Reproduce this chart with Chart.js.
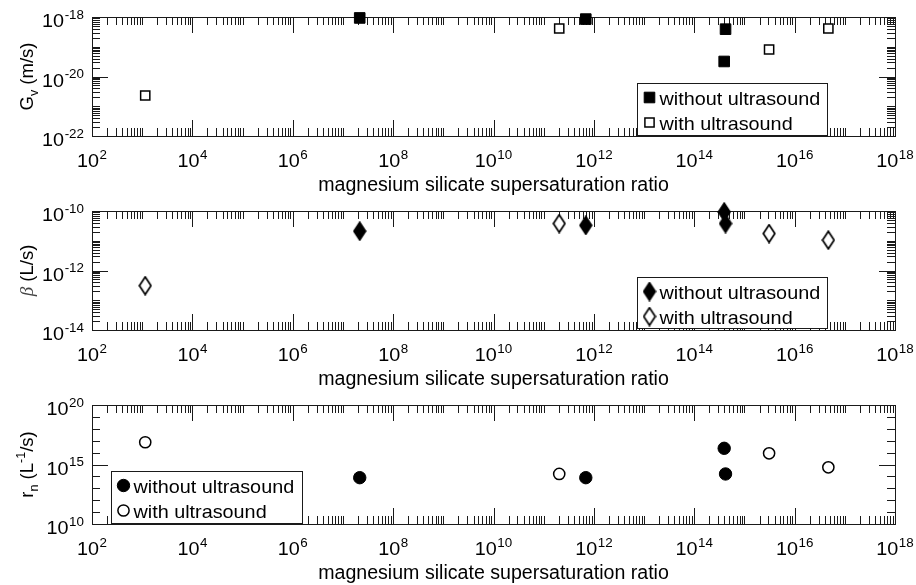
<!DOCTYPE html>
<html>
<head>
<meta charset="utf-8">
<script src="https://cdn.jsdelivr.net/npm/chart.js@4.4.0/dist/chart.umd.min.js"></script>
<style>
body{margin:0;background:#fff;width:916px;height:585px;overflow:hidden;position:relative}
canvas{position:absolute;left:0}
</style>
</head>
<body>
<canvas id="gvChart" width="916" height="200" style="top:0"></canvas>
<canvas id="betaChart" width="916" height="200" style="top:194px"></canvas>
<canvas id="rnChart" width="916" height="200" style="top:388px"></canvas>
<script>
// values
const seriesLabels = ['without ultrasound', 'with ultrasound'];
const xWithout = [2.16e7, 6.9e11, 3.95e14, 4.2e14];
const xWith = [1.15e3, 2.04e11, 3.1e15, 4.7e16];

const gvWithout = [9.3e-19, 8.5e-19, 3.2e-20, 3.9e-19];
const gvWith = [2.3e-21, 4.1e-19, 8.1e-20, 4.1e-19];
const betaWithout = [2.1e-11, 3.3e-11, 9.3e-11, 3.8e-11];
const betaWith = [3.1e-13, 3.8e-11, 1.75e-11, 1.05e-11];
const rnWithout = [7.8e13, 7.8e13, 2.3e16, 1.6e14];
const rnWith = [7.4e16, 1.6e14, 8.7e15, 5.8e14];

// tick labels (powers of ten)
const xLabelExps = [2, 4, 6, 8, 10, 12, 14, 16, 18];
const gvLabelExps = [-22, -20, -18];
const betaLabelExps = [-14, -12, -10];
const rnLabelExps = [10, 15, 20];

const xTitle = 'magnesium silicate supersaturation ratio';
// y titles as pieces: normal text, subscript, superscript
const gvTitle = [{t: 'G'}, {t: 'v', sub: true}, {t: ' (m/s)'}];
const betaTitle = [{t: 'β', greek: true}, {t: ' (L/s)'}];
const rnTitle = [{t: 'r'}, {t: 'n', sub: true}, {t: ' (L'}, {t: '-1', sup: true}, {t: '/s)'}];

const FAMILY = '"Liberation Sans", Arial, sans-serif';
const BASE_FONT = '18.5px ' + FAMILY;
const SMALL_FONT = '12.5px ' + FAMILY;
const STRETCH = 1.07;

Chart.defaults.font.family = FAMILY;
Chart.defaults.font.size = 18;
Chart.defaults.color = '#000';

// ticks for every decade, with 2..9 minors if wanted
function decadeTicks(lo, hi, labelExps, withMinors){
    let ticks = [];
    for(let e = lo; e <= hi; e++){
        ticks.push({value: Math.pow(10, e), major: labelExps.includes(e), exp: e});
        if(withMinors && e < hi){
            for(let m = 2; m <= 9; m++){
                ticks.push({value: m * Math.pow(10, e), major: false});
            }
        }
    }
    return ticks;
}

// "10" with a raised exponent
function drawPow(ctx, e, x, baseY, align){
    ctx.save();
    ctx.translate(x, baseY);
    ctx.scale(STRETCH, 1);
    ctx.textBaseline = 'alphabetic';
    ctx.textAlign = 'left';
    ctx.fillStyle = '#000';
    ctx.font = BASE_FONT;
    let w1 = ctx.measureText('10').width;
    ctx.font = SMALL_FONT;
    let w2 = ctx.measureText(String(e)).width;
    let total = w1 + w2 + 0.5;
    let left = align === 'center' ? -total / 2 : -total;
    ctx.font = BASE_FONT;
    ctx.fillText('10', left, 0);
    ctx.font = SMALL_FONT;
    ctx.fillText(String(e), left + w1 + 0.5, -8.5);
    ctx.restore();
}

function pieceFont(p){
    if(p.greek) return 'italic 19px "Liberation Serif", serif';
    return (p.sub || p.sup) ? SMALL_FONT : BASE_FONT;
}

// rotated y title with sub/superscripts
function drawYTitle(ctx, pieces, baseX, centerY){
    ctx.save();
    ctx.translate(baseX, centerY);
    ctx.rotate(-Math.PI / 2);
    ctx.textBaseline = 'alphabetic';
    ctx.textAlign = 'left';
    ctx.fillStyle = '#000';
    let total = 0;
    pieces.forEach(p => { ctx.font = pieceFont(p); total += ctx.measureText(p.t).width; });
    let cx = -total / 2;
    pieces.forEach(p => {
        ctx.font = pieceFont(p);
        ctx.fillStyle = p.greek ? '#444' : '#000';
        let dy = p.sub ? 5 : (p.sup ? -8.5 : 0);
        ctx.fillText(p.t, cx, dy);
        cx += ctx.measureText(p.t).width;
    });
    ctx.restore();
}

// diamond markers, taller than wide like the original
function diamond(filled){
    let c = document.createElement('canvas');
    c.width = 14; c.height = 20;
    let g = c.getContext('2d');
    g.beginPath();
    g.moveTo(7, 1.2); g.lineTo(12.8, 10); g.lineTo(7, 18.8); g.lineTo(1.2, 10);
    g.closePath();
    g.fillStyle = filled ? '#000' : '#fff';
    g.fill();
    g.lineWidth = 1.7;
    g.strokeStyle = '#000';
    g.stroke();
    return c;
}

// box round the plot with inward ticks on all four sides, plus labels
const boxTicks = {
    id: 'boxTicks',
    beforeDatasetsDraw(chart, args, opts){
        const {ctx, chartArea: a, scales: {x, y}} = chart;
        ctx.save();
        ctx.strokeStyle = '#1a1a1a';
        ctx.lineWidth = 1;
        ctx.beginPath();
        x.ticks.forEach(t => {
            let px = Math.round(x.getPixelForValue(t.value)) + 0.5;
            let len = t.major ? 16 : 8;
            ctx.moveTo(px, a.top); ctx.lineTo(px, a.top + len);
            ctx.moveTo(px, a.bottom); ctx.lineTo(px, a.bottom - len);
        });
        y.ticks.forEach(t => {
            let py = Math.round(y.getPixelForValue(t.value)) + 0.5;
            let len = t.major ? 16 : 8;
            ctx.moveTo(a.left, py); ctx.lineTo(a.left + len, py);
            ctx.moveTo(a.right, py); ctx.lineTo(a.right - len, py);
        });
        ctx.stroke();
        ctx.strokeRect(Math.round(a.left) + 0.5, Math.round(a.top) + 0.5, Math.round(a.width), Math.round(a.height));
        ctx.restore();

        x.ticks.filter(t => t.major).forEach(t => {
            drawPow(ctx, t.exp, x.getPixelForValue(t.value), a.bottom + 31, 'center');
        });
        y.ticks.filter(t => t.major).forEach(t => {
            drawPow(ctx, t.exp, a.left - 8, y.getPixelForValue(t.value) + 10, 'right');
        });
        drawYTitle(ctx, opts.title, 33, (a.top + a.bottom) / 2);
    }
};

// boxed legend inside the plot area
const boxLegend = {
    id: 'boxLegend',
    afterDatasetsDraw(chart, args, opts){
        const {ctx, chartArea: a} = chart;
        let bx = Math.round(a.left + opts.left) + 0.5;
        let by = Math.round(a.top + opts.top) + 0.5;
        ctx.save();
        ctx.fillStyle = '#fff';
        ctx.fillRect(bx, by, opts.width, opts.height);
        ctx.strokeStyle = '#1a1a1a';
        ctx.lineWidth = 1;
        ctx.strokeRect(bx, by, opts.width, opts.height);
        chart.data.datasets.forEach((ds, i) => {
            let ry = by + 14 + i * 25;
            ctx.fillStyle = ds.backgroundColor;
            ctx.strokeStyle = ds.borderColor;
            ctx.lineWidth = ds.borderWidth;
            Chart.helpers.drawPoint(ctx, {pointStyle: ds.pointStyle, radius: ds.pointRadius, rotation: 0, borderWidth: ds.borderWidth}, bx + 12, ry);
            ctx.save();
            ctx.translate(bx + 22, ry + 7);
            ctx.scale(STRETCH, 1);
            ctx.font = BASE_FONT;
            ctx.textBaseline = 'alphabetic';
            ctx.fillStyle = '#000';
            ctx.fillText(ds.label, 0, 0);
            ctx.restore();
        });
        ctx.restore();
    }
};

function makePanel(id, yWithout, yWith, yLo, yHi, yLabelExps, yMinors, yTitle, styles, legendPos){
    let withoutPts = xWithout.map((x, i) => ({x: x, y: yWithout[i]}));
    let withPts = xWith.map((x, i) => ({x: x, y: yWith[i]}));
    new Chart(document.getElementById(id), {
        type: 'scatter',
        data: {
            datasets: [{
                label: seriesLabels[0],
                data: withoutPts,
                pointStyle: styles[0].style,
                pointRadius: styles[0].radius,
                pointHoverRadius: styles[0].radius,
                backgroundColor: '#000',
                borderColor: '#000',
                borderWidth: 1,
                clip: false
            },{
                label: seriesLabels[1],
                data: withPts,
                pointStyle: styles[1].style,
                pointRadius: styles[1].radius,
                pointHoverRadius: styles[1].radius,
                backgroundColor: '#fff',
                borderColor: '#000',
                borderWidth: 1.5,
                clip: false
            }]
        },
        options: {
            responsive: false,
            animation: false,
            events: [],
            layout: {padding: {top: 17, right: 21, left: 0, bottom: 0}},
            plugins: {
                legend: {display: false},
                tooltip: {enabled: false},
                boxTicks: {title: yTitle},
                boxLegend: legendPos
            },
            scales: {
                x: {
                    type: 'logarithmic',
                    min: 1e2,
                    max: 1e18,
                    grid: {display: false, drawTicks: false},
                    border: {display: false},
                    afterBuildTicks: s => { s.ticks = decadeTicks(2, 18, xLabelExps, true); },
                    afterFit: s => { s.height = 64; },
                    ticks: {display: false, autoSkip: false},
                    title: {display: true, text: xTitle, font: {size: 19.6}, padding: {top: 0, bottom: 3}}
                },
                y: {
                    type: 'logarithmic',
                    min: Math.pow(10, yLo),
                    max: Math.pow(10, yHi),
                    grid: {display: false, drawTicks: false},
                    border: {display: false},
                    afterBuildTicks: s => { s.ticks = decadeTicks(yLo, yHi, yLabelExps, yMinors); },
                    afterFit: s => { s.width = 92; },
                    ticks: {display: false, autoSkip: false}
                }
            }
        },
        plugins: [boxTicks, boxLegend]
    });
}

makePanel('gvChart', gvWithout, gvWith, -22, -18, gvLabelExps, true, gvTitle,
    [{style: 'rect', radius: 7.5}, {style: 'rect', radius: 6.5}],
    {left: 545, top: 66, width: 190, height: 52});

makePanel('betaChart', betaWithout, betaWith, -14, -10, betaLabelExps, true, betaTitle,
    [{style: diamond(true), radius: 9}, {style: diamond(false), radius: 9}],
    {left: 545, top: 66, width: 190, height: 51});

makePanel('rnChart', rnWithout, rnWith, 10, 20, rnLabelExps, false, rnTitle,
    [{style: 'circle', radius: 6.2}, {style: 'circle', radius: 5.6}],
    {left: 19, top: 66, width: 191, height: 52});
</script>
</body>
</html>
